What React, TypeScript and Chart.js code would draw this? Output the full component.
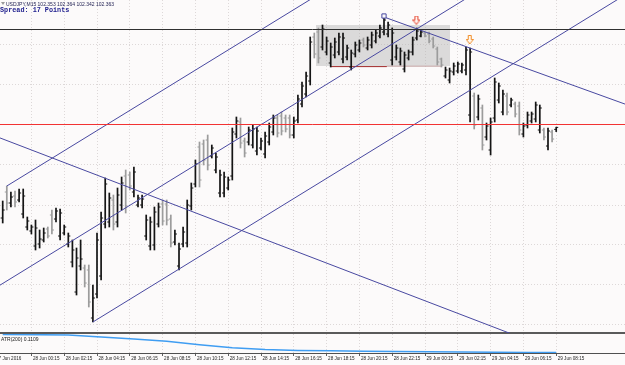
import React, { useEffect, useRef } from 'react';
import { Chart, registerables } from 'chart.js';

Chart.register(...registerables);

// ---- texts ----
const symbolText = 'USDJPY,M15 102.353 102.364 102.342 102.363';
const spreadText = 'Spread: 17 Points';
const atrText = 'ATR(200) 0.1109';

// ---- OHLC (USDJPY M15), bar index 0..135 ----
const highs = [
  101.995, 102.07, 102.04, 102.045, 102.055, 102.055, 101.915, 101.875, 101.9, 101.85,
  101.86, 101.865, 101.95, 101.96, 101.955, 101.875, 101.835, 101.8, 101.76, 101.8,
  101.675, 101.675, 101.575, 101.835, 101.94, 102.11, 102.035, 102.025, 102.06, 102.115,
  102.15, 102.14, 102.165, 102.025, 102.025, 101.925, 101.915, 101.965, 101.985, 102.0,
  102.0, 101.925, 101.85, 101.785, 101.865, 102.0, 102.085, 102.2, 102.29, 102.3,
  102.325, 102.275, 102.235, 102.15, 102.14, 102.115, 102.36, 102.415, 102.41, 102.31,
  102.365, 102.375, 102.365, 102.31, 102.34, 102.385, 102.425, 102.425, 102.44, 102.425,
  102.425, 102.415, 102.525, 102.59, 102.64, 102.815, 102.835, 102.86, 102.875, 102.815,
  102.785, 102.81, 102.835, 102.835, 102.775, 102.75, 102.79, 102.8, 102.81, 102.815,
  102.84, 102.85, 102.875, 102.915, 102.89, 102.86, 102.775, 102.76, 102.74, 102.75,
  102.815, 102.86, 102.85, 102.84, 102.84, 102.815, 102.765, 102.71, 102.665, 102.66,
  102.685, 102.69, 102.685, 102.765, 102.76, 102.535, 102.525, 102.475, 102.385, 102.41,
  102.61, 102.585, 102.55, 102.535, 102.51, 102.49, 102.49, 102.385, 102.44, 102.44,
  102.49, 102.475, 102.36, 102.36, 102.35, 102.364,
];
const lows = [
  101.885, 101.95, 101.965, 101.965, 101.99, 101.91, 101.85, 101.83, 101.75, 101.76,
  101.79, 101.81, 101.83, 101.89, 101.8, 101.825, 101.765, 101.665, 101.525, 101.65,
  101.565, 101.465, 101.39, 101.51, 101.6, 101.86, 101.865, 101.85, 101.865, 101.95,
  101.935, 102.05, 102.015, 101.965, 101.96, 101.8, 101.75, 101.75, 101.865, 101.875,
  101.875, 101.765, 101.775, 101.65, 101.765, 101.765, 101.95, 102.065, 102.065, 102.175,
  102.15, 102.21, 102.135, 102.015, 102.015, 102.05, 102.1, 102.31, 102.26, 102.215,
  102.275, 102.26, 102.225, 102.25, 102.21, 102.275, 102.325, 102.315, 102.325, 102.34,
  102.31, 102.31, 102.385, 102.465, 102.515, 102.575, 102.71, 102.685, 102.75, 102.725,
  102.665, 102.71, 102.725, 102.685, 102.7, 102.65, 102.715, 102.74, 102.765, 102.75,
  102.76, 102.785, 102.81, 102.825, 102.815, 102.675, 102.7, 102.675, 102.64, 102.7,
  102.725, 102.8, 102.815, 102.815, 102.785, 102.76, 102.675, 102.665, 102.61, 102.585,
  102.625, 102.635, 102.635, 102.625, 102.39, 102.355, 102.4, 102.25, 102.3, 102.225,
  102.39, 102.485, 102.425, 102.425, 102.465, 102.415, 102.325, 102.315, 102.36, 102.385,
  102.39, 102.335, 102.3, 102.25, 102.29, 102.342,
];
const opens = [
  101.91, 102.04, 101.985, 102.02, 102.0, 101.93, 101.865, 101.845, 101.77, 101.78,
  101.8, 101.855, 101.925, 101.905, 101.82, 101.835, 101.78, 101.69, 101.54, 101.67,
  101.66, 101.65, 101.41, 101.53, 101.62, 101.88, 101.89, 102.0, 101.89, 101.975,
  102.12, 102.125, 102.04, 101.975, 101.975, 101.82, 101.77, 101.775, 101.88, 101.98,
  101.98, 101.905, 101.79, 101.67, 101.78, 101.785, 101.97, 102.08, 102.265, 102.28,
  102.3, 102.22, 102.15, 102.035, 102.035, 102.06, 102.12, 102.33, 102.39, 102.295,
  102.29, 102.275, 102.245, 102.26, 102.23, 102.29, 102.34, 102.41, 102.42, 102.41,
  102.41, 102.325, 102.4, 102.48, 102.53, 102.595, 102.815, 102.84, 102.765, 102.74,
  102.685, 102.725, 102.74, 102.705, 102.715, 102.665, 102.73, 102.75, 102.8, 102.76,
  102.775, 102.795, 102.82, 102.84, 102.83, 102.7, 102.715, 102.69, 102.655, 102.71,
  102.74, 102.81, 102.82, 102.835, 102.83, 102.805, 102.755, 102.705, 102.62, 102.6,
  102.64, 102.645, 102.645, 102.65, 102.425, 102.52, 102.415, 102.46, 102.315, 102.25,
  102.41, 102.5, 102.44, 102.52, 102.475, 102.48, 102.47, 102.33, 102.375, 102.395,
  102.405, 102.35, 102.35, 102.27, 102.34, 102.353,
];
const closes = [
  101.95, 101.985, 102.015, 101.99, 102.035, 102.02, 101.895, 101.865, 101.86, 101.805,
  101.835, 101.82, 101.85, 101.945, 101.935, 101.865, 101.82, 101.75, 101.71, 101.705,
  101.585, 101.49, 101.51, 101.8, 101.91, 102.08, 102.01, 101.88, 102.025, 102.085,
  101.97, 102.07, 102.14, 102.01, 102.005, 101.9, 101.89, 101.94, 101.965, 101.895,
  101.9, 101.785, 101.83, 101.755, 101.84, 101.975, 102.06, 102.18, 102.1, 102.2,
  102.175, 102.26, 102.215, 102.125, 102.115, 102.1, 102.34, 102.395, 102.285, 102.235,
  102.35, 102.355, 102.345, 102.295, 102.32, 102.365, 102.41, 102.335, 102.345, 102.355,
  102.325, 102.395, 102.505, 102.57, 102.62, 102.79, 102.73, 102.71, 102.855, 102.795,
  102.765, 102.79, 102.815, 102.81, 102.76, 102.735, 102.775, 102.785, 102.775, 102.8,
  102.825, 102.835, 102.86, 102.9, 102.875, 102.835, 102.76, 102.745, 102.725, 102.74,
  102.8, 102.845, 102.84, 102.82, 102.795, 102.77, 102.69, 102.675, 102.65, 102.645,
  102.67, 102.68, 102.675, 102.75, 102.74, 102.375, 102.505, 102.275, 102.37, 102.39,
  102.59, 102.57, 102.53, 102.44, 102.5, 102.43, 102.35, 102.37, 102.425, 102.43,
  102.475, 102.46, 102.315, 102.345, 102.305, 102.363,
];

// ---- time axis ----
const tickBars = [-2, 7, 15, 23, 31, 39, 47, 55, 63, 71, 79, 87, 95, 103, 111, 119, 127, 135];
const tickLabels = [
  '27 Jun 2016', '28 Jun 00:15', '28 Jun 02:15', '28 Jun 04:15', '28 Jun 06:15', '28 Jun 08:15',
  '28 Jun 10:15', '28 Jun 12:15', '28 Jun 14:15', '28 Jun 16:15', '28 Jun 18:15', '28 Jun 20:15',
  '28 Jun 22:15', '29 Jun 00:15', '29 Jun 02:15', '29 Jun 04:15', '29 Jun 06:15', '29 Jun 08:15',
];
const gridPrices = [102.775, 102.575, 102.375, 102.175, 101.975, 101.775, 101.575, 101.375];

// ---- ATR(200) sub-window ----
const atrBars = [0, 8, 16, 24, 32, 40, 48, 56, 64, 72, 80, 88, 96, 104, 112, 120, 128, 135];
const atrValues = [
  0.1294, 0.1293, 0.129, 0.1268, 0.1248, 0.1226, 0.119, 0.116, 0.114, 0.113,
  0.1127, 0.1124, 0.112, 0.1118, 0.1114, 0.1113, 0.1111, 0.1109,
];

// ---- drawn objects (bar index, price) ----
const channelUpper = [{ x: 1, y: 102.07 }, { x: 78, y: 103.04 }];
const channelMiddle = [{ x: -1, y: 101.57 }, { x: 115, y: 103.032 }];
const channelLower = [{ x: 22, y: 101.39 }, { x: 152, y: 103.028 }];
const trendDown = [{ x: 93, y: 102.915 }, { x: 152, y: 102.478 }];
const trendLong = [{ x: -1, y: 102.313 }, { x: 130, y: 101.284 }];
const levelBlack = 102.8525;
const levelRed = 102.3775;
const boxBars = [76.4, 109.1];
const boxPrices = [102.875, 102.67];
const rangeLowDark = [{ x: 80, y: 102.667 }, { x: 93.7, y: 102.667 }];
const rangeLowLight = [{ x: 93.7, y: 102.669 }, { x: 107.2, y: 102.669 }];
const anchorMark = [{ x: 93, y: 102.92 }];
const redArrowMark = [{ x: 100.9, y: 102.8975 }];
const orangeArrowMark = [{ x: 113.9, y: 102.8 }];

const X_MIN = -0.66;
const X_MAX = 151.78;
const Y_MIN = 101.335;
const Y_MAX = 103.0;
const ATR_MIN = 0.1105;
const ATR_MAX = 0.13;

const BG = '#fcfafa';
const UP = '#151515';
const DOWN = '#9c9c9c';
const NAVY = '#4848a0';
const GRID = 'rgba(150,140,140,0.3)';
const SMALL_FONT = "'Liberation Sans Narrow', 'Liberation Sans', Arial, sans-serif";

function makeArrow(stroke: string, fill: string) {
  const c = document.createElement('canvas');
  c.width = 8;
  c.height = 10;
  const g = c.getContext('2d')!;
  g.beginPath();
  g.moveTo(2.5, 0.5);
  g.lineTo(5.5, 0.5);
  g.lineTo(5.5, 4.5);
  g.lineTo(7.5, 4.5);
  g.lineTo(4, 9);
  g.lineTo(0.5, 4.5);
  g.lineTo(2.5, 4.5);
  g.closePath();
  g.fillStyle = fill;
  g.fill();
  g.strokeStyle = stroke;
  g.lineWidth = 1;
  g.stroke();
  return c;
}

export default function App() {
  const mainRef = useRef<HTMLCanvasElement>(null);
  const atrRef = useRef<HTMLCanvasElement>(null);

  useEffect(() => {
    const idx = highs.map((_, i) => i);
    const barColor = (i: number) => (closes[i] >= opens[i] ? UP : DOWN);
    const xTicks = (s: any) => {
      s.ticks = tickBars.map((v) => ({ value: v }));
    };
    const redArrow = makeArrow('#e5412c', '#fff3ee');
    const orangeArrow = makeArrow('#f08c28', '#fff8ef');

    const headerPlugin = {
      id: 'header',
      afterDraw(chart: any) {
        const ctx = chart.ctx;
        ctx.save();
        ctx.fillStyle = '#9a9a9a';
        ctx.beginPath();
        ctx.moveTo(1, 2);
        ctx.lineTo(5, 2);
        ctx.lineTo(3, 5);
        ctx.closePath();
        ctx.fill();
        ctx.textBaseline = 'alphabetic';
        ctx.textAlign = 'left';
        ctx.fillStyle = '#1d1d50';
        ctx.font = `5px ${SMALL_FONT}`;
        ctx.fillText(symbolText, 6, 5.5);
        ctx.fillStyle = '#1c1c8c';
        ctx.font = "bold 6.8px 'Liberation Mono', 'DejaVu Sans Mono', monospace";
        ctx.fillText(spreadText, 0, 12);
        ctx.restore();
      },
    };

    const atrLabelPlugin = {
      id: 'atrLabel',
      afterDraw(chart: any) {
        const ctx = chart.ctx;
        ctx.save();
        ctx.fillStyle = '#202020';
        ctx.font = `5px ${SMALL_FONT}`;
        ctx.textBaseline = 'alphabetic';
        ctx.fillText(atrText, 1, 6.5);
        ctx.restore();
      },
    };

    const lineDs = (data: any[], color: string, order: number, width = 1) => ({
      data,
      borderColor: color,
      borderWidth: width,
      pointRadius: 0,
      tension: 0,
      fill: false,
      order,
    });

    const main = new Chart(mainRef.current!, {
      type: 'line',
      data: {
        datasets: [
          {
            data: [{ x: boxBars[0], y: boxPrices[0] }, { x: boxBars[1], y: boxPrices[0] }],
            fill: '+1',
            backgroundColor: 'rgba(175,175,175,0.42)',
            borderColor: 'rgba(0,0,0,0)',
            borderWidth: 0,
            pointRadius: 0,
            order: 40,
          },
          {
            data: [{ x: boxBars[0], y: boxPrices[1] }, { x: boxBars[1], y: boxPrices[1] }],
            fill: false,
            borderColor: 'rgba(0,0,0,0)',
            borderWidth: 0,
            pointRadius: 0,
            order: 39,
          },
          lineDs(rangeLowDark, '#a02828', 35),
          lineDs(rangeLowLight, '#c4a2a2', 35),
          {
            type: 'bar',
            data: idx.map((i) => ({ x: i, y: [lows[i], highs[i]] })),
            backgroundColor: (c: any) => barColor(c.dataIndex),
            borderWidth: 0,
            barThickness: 1.05,
            grouped: false,
            order: 30,
          } as any,
          {
            data: idx.map((i) => ({ x: i - 0.25, y: opens[i] })),
            showLine: false,
            pointStyle: 'line',
            pointRadius: 1,
            pointBorderWidth: 1,
            pointBorderColor: (c: any) => barColor(c.dataIndex),
            order: 29,
          },
          {
            data: idx.map((i) => ({ x: i + 0.25, y: closes[i] })),
            showLine: false,
            pointStyle: 'line',
            pointRadius: 1,
            pointBorderWidth: 1,
            pointBorderColor: (c: any) => barColor(c.dataIndex),
            order: 28,
          },
          lineDs(channelUpper, NAVY, 10),
          lineDs(channelMiddle, NAVY, 10),
          lineDs(channelLower, NAVY, 10),
          lineDs(trendDown, NAVY, 10),
          lineDs(trendLong, NAVY, 10),
          lineDs([{ x: X_MIN - 1, y: levelBlack }, { x: X_MAX + 1, y: levelBlack }], '#303030', 9),
          lineDs([{ x: X_MIN - 1, y: levelRed }, { x: X_MAX + 1, y: levelRed }], '#f23232', 9),
          {
            data: anchorMark,
            showLine: false,
            pointStyle: 'rect',
            pointRadius: 3,
            pointBorderWidth: 1,
            pointBorderColor: NAVY,
            pointBackgroundColor: BG,
            order: 1,
          },
          { data: redArrowMark, showLine: false, pointStyle: redArrow, pointRadius: 4, order: 1 },
          { data: orangeArrowMark, showLine: false, pointStyle: orangeArrow, pointRadius: 4, order: 1 },
        ] as any,
      },
      options: {
        responsive: false,
        animation: false,
        events: [],
        layout: { autoPadding: false, padding: { left: 0, right: 0, top: 0, bottom: 1 } },
        plugins: { legend: { display: false }, tooltip: { enabled: false }, title: { display: false } },
        scales: {
          x: {
            type: 'linear',
            min: X_MIN,
            max: X_MAX,
            offset: false,
            afterBuildTicks: xTicks,
            afterFit: (s: any) => {
              s.height = 0;
              s.paddingLeft = 0;
              s.paddingRight = 0;
            },
            ticks: { display: false },
            grid: { color: GRID, drawTicks: false, offset: false },
            border: { display: true, color: '#5a5a5a', width: 2, dash: [1, 2] },
          },
          y: {
            type: 'linear',
            min: Y_MIN,
            max: Y_MAX,
            afterBuildTicks: (s: any) => {
              s.ticks = gridPrices.map((v) => ({ value: v }));
            },
            afterFit: (s: any) => {
              s.width = 0;
            },
            ticks: { display: false },
            grid: { color: GRID, drawTicks: false },
            border: { display: false, dash: [1, 2] },
          },
        },
      } as any,
      plugins: [headerPlugin],
    });

    const atr = new Chart(atrRef.current!, {
      type: 'line',
      data: {
        datasets: [
          {
            data: atrBars.map((b, k) => ({ x: b, y: atrValues[k] })),
            borderColor: '#3f9df2',
            borderWidth: 1.5,
            pointRadius: 0,
            tension: 0,
            fill: false,
          },
        ],
      },
      options: {
        responsive: false,
        animation: false,
        events: [],
        layout: { autoPadding: false, padding: 0 },
        plugins: { legend: { display: false }, tooltip: { enabled: false } },
        scales: {
          x: {
            type: 'linear',
            min: X_MIN,
            max: X_MAX,
            offset: false,
            afterBuildTicks: xTicks,
            afterFit: (s: any) => {
              s.height = 12;
              s.paddingLeft = 0;
              s.paddingRight = 0;
            },
            ticks: {
              autoSkip: false,
              maxRotation: 0,
              minRotation: 0,
              align: 'start',
              labelOffset: 1.5,
              padding: 0,
              color: '#1e1e1e',
              font: { family: SMALL_FONT, size: 4.6 },
              callback: (_v: any, i: number) => tickLabels[i],
            },
            grid: { color: GRID, drawTicks: true, tickLength: 3, tickColor: '#606060', offset: false },
            border: { display: true, color: '#505050', width: 1, dash: [1, 2] },
          },
          y: {
            type: 'linear',
            min: ATR_MIN,
            max: ATR_MAX,
            afterFit: (s: any) => {
              s.width = 0;
            },
            ticks: { display: false },
            grid: { display: false },
            border: { display: false },
          },
        },
      } as any,
      plugins: [atrLabelPlugin],
    });

    return () => {
      main.destroy();
      atr.destroy();
    };
  }, []);

  return (
    <div style={{ position: 'fixed', left: 0, top: 0, width: 625, height: 365, background: BG, overflow: 'hidden' }}>
      <canvas ref={mainRef} width={625} height={334} style={{ position: 'absolute', left: 0, top: 0, width: 625, height: 334 }} />
      <canvas ref={atrRef} width={625} height={31} style={{ position: 'absolute', left: 0, top: 334, width: 625, height: 31 }} />
    </div>
  );
}
